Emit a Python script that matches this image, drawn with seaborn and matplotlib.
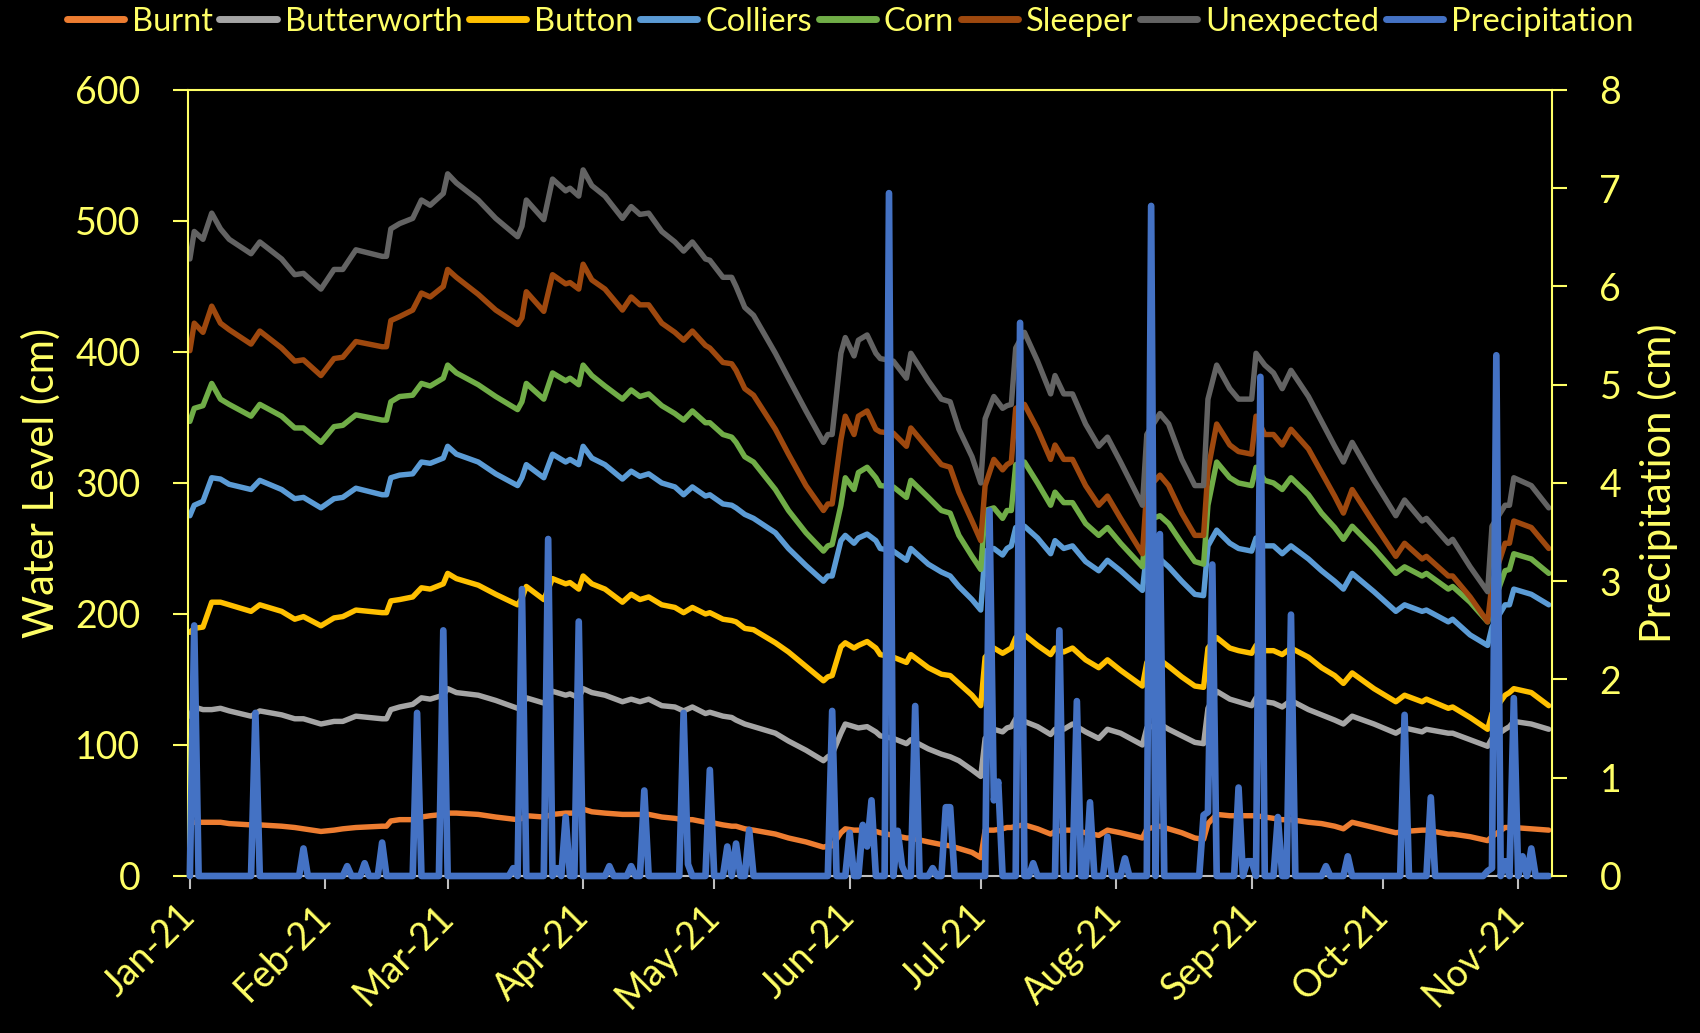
import pandas as pd
import matplotlib
matplotlib.use("Agg")
import matplotlib.pyplot as plt
from matplotlib.lines import Line2D
import seaborn as sns

### Water level at seven wells + daily precipitation, 2021
start = pd.Timestamp("2021-01-01")

# days since Jan 1 where the water level lines change direction
level_days = [0, 1, 3, 5, 7, 9, 14, 16, 21, 24, 26, 30, 33, 35, 38, 44, 45, 46, 48,
              51, 53, 55, 58, 59, 61, 66, 70, 75, 76, 77, 81, 83, 86, 87, 89, 90, 92, 95, 99, 101, 103,
              105, 108, 111, 113, 115, 118, 119, 122, 124, 125, 127, 129, 134, 137, 141, 145, 146, 147, 149, 150, 152, 153, 155, 157,
              158, 161, 164, 165, 169, 172, 174, 176, 179, 181, 182, 184, 186, 187, 188, 189, 191, 194, 197, 198, 200, 202, 205, 208,
              210, 213, 218, 219, 222, 224, 227, 230, 232, 233, 235, 238, 240, 243, 244, 246, 248, 250, 252, 256, 259, 262,
              264, 266, 271, 276, 278, 282, 283, 288, 289, 293, 297, 298, 301, 302, 303, 307, 311]

burnt = [41, 41, 41, 41, 41, 40, 39, 39, 38, 37, 36, 34, 35, 36, 37, 38, 38, 42, 43,
         43, 45, 46, 47, 48, 48, 47, 45, 43, 44, 46, 45, 47, 48, 48, 48, 51, 49, 48, 47, 47, 47,
         47, 45, 44, 43, 43, 41, 41, 39, 38, 38, 36, 35, 32, 29, 26, 22, 23, 23, 33, 36, 35, 35, 35, 34,
         33, 31, 29, 29, 26, 24, 23, 21, 18, 14, 35, 35, 36, 37, 37, 38, 39, 36, 32, 34, 35, 35, 33, 31,
         35, 33, 29, 36, 38, 36, 33, 29, 28, 40, 47, 46, 46, 46, 46, 45, 44, 43, 43, 41, 40, 38,
         36, 41, 37, 33, 34, 35, 35, 32, 32, 30, 27, 30, 37, 37, 37, 36, 35]

butterworth = [122, 129, 127, 127, 128, 126, 122, 126, 123, 120, 120, 116, 118, 118, 122, 120, 120, 127, 129,
               131, 136, 135, 138, 143, 140, 138, 134, 128, 130, 136, 132, 141, 138, 139, 136, 143, 140, 138, 133, 135, 133,
               135, 130, 129, 126, 129, 124, 125, 122, 121, 119, 116, 114, 109, 103, 96, 88, 91, 93, 109, 116, 114, 113, 114, 110,
               107, 105, 101, 104, 97, 93, 91, 88, 81, 76, 105, 112, 110, 113, 114, 120, 118, 114, 108, 112, 112, 116, 110, 105,
               112, 109, 100, 113, 116, 112, 107, 102, 101, 128, 141, 135, 133, 130, 136, 133, 132, 129, 134, 127, 123, 119,
               116, 122, 116, 109, 113, 110, 112, 109, 109, 104, 99, 105, 112, 114, 118, 116, 112]

button = [186, 189, 190, 209, 209, 207, 202, 207, 202, 196, 198, 191, 197, 198, 203, 201, 201, 210, 211,
          213, 220, 219, 223, 231, 227, 222, 215, 207, 212, 221, 211, 227, 223, 224, 219, 229, 223, 219, 209, 215, 211,
          213, 207, 205, 201, 205, 200, 201, 196, 195, 194, 189, 188, 178, 171, 160, 149, 152, 153, 175, 178, 174, 176, 179, 174,
          169, 167, 163, 169, 159, 154, 153, 147, 138, 130, 167, 174, 170, 172, 174, 182, 184, 176, 169, 174, 171, 174, 165, 159,
          165, 157, 145, 163, 165, 160, 152, 145, 144, 174, 182, 174, 172, 170, 176, 172, 172, 169, 174, 167, 159, 153,
          147, 155, 143, 133, 138, 133, 135, 128, 129, 121, 112, 124, 138, 140, 143, 140, 130]

colliers = [275, 283, 286, 304, 303, 299, 295, 302, 295, 288, 289, 281, 288, 289, 296, 291, 291, 304, 306,
            307, 316, 315, 319, 328, 322, 316, 307, 298, 304, 314, 304, 322, 316, 318, 314, 328, 319, 314, 303, 309, 305,
            307, 300, 297, 291, 297, 290, 291, 284, 283, 281, 276, 273, 262, 250, 237, 225, 229, 229, 256, 260, 254, 258, 261, 256,
            250, 248, 241, 250, 238, 232, 229, 221, 211, 203, 248, 250, 245, 250, 252, 266, 267, 258, 246, 256, 250, 252, 240, 233,
            241, 233, 218, 248, 242, 236, 225, 215, 214, 252, 264, 254, 250, 248, 258, 252, 252, 246, 252, 242, 233, 225,
            219, 231, 217, 202, 207, 202, 203, 194, 196, 184, 176, 190, 207, 207, 219, 215, 207]

corn = [347, 357, 359, 376, 364, 360, 351, 360, 351, 342, 342, 331, 343, 344, 352, 348, 348, 362, 366,
        367, 376, 374, 380, 390, 384, 375, 366, 356, 362, 376, 364, 384, 378, 380, 375, 390, 382, 374, 364, 371, 366,
        368, 359, 353, 348, 355, 346, 346, 337, 335, 331, 320, 316, 295, 279, 262, 248, 252, 253, 283, 304, 295, 308, 312, 304,
        298, 297, 289, 302, 289, 279, 277, 260, 244, 234, 279, 281, 273, 279, 279, 314, 316, 300, 283, 293, 285, 285, 269, 260,
        266, 254, 236, 271, 275, 269, 254, 240, 238, 283, 316, 304, 300, 298, 312, 302, 300, 295, 304, 291, 277, 266,
        257, 267, 250, 231, 236, 229, 231, 219, 221, 209, 194, 205, 233, 234, 246, 242, 231]

sleeper = [401, 422, 415, 435, 422, 417, 406, 416, 403, 393, 394, 382, 395, 396, 408, 404, 404, 424, 427,
           432, 445, 442, 450, 463, 457, 444, 432, 421, 426, 446, 431, 459, 452, 453, 448, 467, 455, 448, 432, 442, 436,
           436, 422, 415, 409, 416, 405, 403, 392, 391, 386, 372, 367, 341, 322, 298, 279, 284, 284, 333, 351, 337, 351, 355, 341,
           339, 338, 328, 342, 326, 314, 312, 293, 271, 256, 298, 318, 310, 314, 316, 357, 360, 341, 318, 329, 318, 318, 298, 283,
           290, 273, 246, 295, 306, 298, 277, 260, 260, 310, 345, 329, 324, 322, 351, 337, 337, 329, 341, 326, 308, 290,
           277, 295, 269, 244, 254, 242, 244, 229, 229, 213, 194, 223, 254, 254, 271, 266, 250]

unexpected = [471, 492, 486, 506, 494, 486, 475, 484, 471, 459, 460, 448, 463, 463, 478, 473, 473, 494, 498,
              502, 516, 512, 521, 536, 529, 516, 502, 488, 496, 516, 501, 532, 523, 525, 519, 539, 527, 519, 502, 511, 505,
              506, 492, 484, 477, 484, 471, 470, 457, 457, 450, 434, 428, 399, 380, 355, 331, 337, 337, 399, 411, 397, 409, 413, 399,
              395, 393, 380, 399, 378, 364, 362, 341, 320, 300, 349, 366, 357, 359, 360, 403, 415, 393, 368, 382, 368, 368, 345, 328,
              335, 316, 283, 337, 353, 345, 318, 298, 298, 364, 390, 372, 364, 364, 399, 390, 384, 372, 386, 366, 347, 328,
              316, 331, 302, 275, 287, 271, 273, 254, 257, 236, 217, 267, 283, 283, 304, 298, 281]

# daily precipitation (cm), dry days around each event given as 0
precip_days = [0, 1, 2, 14, 15, 16, 25, 26, 27, 35, 36, 37, 39, 40, 41, 43, 44, 45, 51, 52, 53, 57, 58, 59,
               73, 74, 75, 76, 77, 81, 82, 83, 84, 85, 86, 87, 88, 89, 90, 95, 96, 97, 100, 101, 102, 103, 104, 105,
               112, 113, 114, 115, 118, 119, 120, 122, 123, 124, 125, 126, 127, 128, 129,
               146, 147, 148, 150, 151, 152, 153, 154, 155, 156, 157, 159, 160, 161, 162, 163, 164, 165, 166, 167,
               169, 170, 171, 172, 173, 174, 175, 182, 183, 184, 185, 186, 189, 190, 191, 192, 193, 194,
               198, 199, 200, 202, 203, 204, 205, 206, 207, 209, 210, 211, 213, 214, 215,
               219, 220, 221, 222, 223, 231, 232, 233, 234, 235, 239, 240, 241, 242, 243, 244, 245, 246,
               248, 249, 250, 251, 252, 253, 259, 260, 261, 264, 265, 266, 277, 278, 279, 283, 284, 285,
               296, 297, 298, 299, 300, 301, 302, 303, 304, 305, 306, 307, 308, 311]
precip_cm = [0, 2.55, 0, 0, 1.66, 0, 0, 0.28, 0, 0, 0.10, 0, 0, 0.13, 0, 0, 0.34, 0, 0, 1.66, 0, 0, 2.50, 0,
             0, 0.08, 0, 2.92, 0, 0, 3.43, 0, 0.08, 0, 0.60, 0, 0, 2.59, 0, 0, 0.10, 0, 0, 0.10, 0, 0, 0.87, 0,
             0, 1.66, 0.12, 0, 0, 1.08, 0, 0, 0.30, 0, 0.33, 0, 0, 0.47, 0,
             0, 1.68, 0, 0, 0.44, 0, 0, 0.52, 0.30, 0.77, 0, 0, 6.95, 0, 0.46, 0.10, 0, 0, 1.73, 0,
             0, 0.08, 0, 0, 0.70, 0.70, 0, 0, 3.72, 0.77, 0.96, 0, 0, 5.63, 0, 0, 0.13, 0,
             0, 2.50, 0, 0, 1.78, 0, 0, 0.75, 0, 0, 0.40, 0, 0, 0.18, 0,
             0, 6.82, 0, 3.48, 0, 0, 0.62, 0.65, 3.17, 0, 0, 0.90, 0, 0.15, 0.15, 0, 5.08, 0,
             0, 0.60, 0, 0, 2.66, 0, 0, 0.10, 0, 0, 0.20, 0, 0, 1.64, 0, 0, 0.80, 0,
             0, 0.05, 0.08, 5.30, 0, 0.15, 0, 1.81, 0, 0.20, 0, 0.28, 0, 0]

sites = ["Burnt", "Butterworth", "Button", "Colliers", "Corn", "Sleeper", "Unexpected"]
site_colours = {
    "Burnt": "#ED7D31",
    "Butterworth": "#A5A5A5",
    "Button": "#FFC000",
    "Colliers": "#5B9BD5",
    "Corn": "#70AD47",
    "Sleeper": "#9E480E",
    "Unexpected": "#636363",
}
rain_colour = "#4472C4"
yellow = "#FFFF66"

# Build long table for seaborn
levels = pd.DataFrame({"day": level_days, "Burnt": burnt, "Butterworth": butterworth,
                       "Button": button, "Colliers": colliers, "Corn": corn,
                       "Sleeper": sleeper, "Unexpected": unexpected})
levels["date"] = start + pd.to_timedelta(levels["day"], unit="D")
long = levels.melt(id_vars=["date"], value_vars=sites, var_name="site", value_name="level")

rain = pd.DataFrame({"date": start + pd.to_timedelta(precip_days, unit="D"), "precip": precip_cm})

sns.set_theme(style="dark")
plt.rcParams["font.family"] = ["Lato", "DejaVu Sans"]

fig, ax = plt.subplots(figsize=(17, 10.33), dpi=100)
fig.patch.set_facecolor("black")
fig.subplots_adjust(left=0.1104, right=0.9131, bottom=0.152, top=0.9129)
ax.set_facecolor("black")

sns.lineplot(data=long, x="date", y="level", hue="site", hue_order=sites,
             palette=site_colours, linewidth=3.9, estimator=None, legend=False, ax=ax)

ax2 = ax.twinx()
sns.lineplot(data=rain, x="date", y="precip", color=rain_colour, linewidth=4.8,
             estimator=None, ax=ax2)
for ln in ax2.get_lines():
    ln.set_clip_on(False)

# Axis ranges
ax.set_xlim(start - pd.Timedelta(hours=12), start + pd.Timedelta(days=311.8))
ax.set_ylim(0, 600)
ax2.set_ylim(0, 8)

months = pd.date_range("2021-01-01", "2021-11-01", freq="MS")
ax.set_xticks(months)
ax.set_xticklabels([m.strftime("%b-%y") for m in months], rotation=45,
                   ha="right", va="center", rotation_mode="anchor")
ax.set_yticks(range(0, 601, 100))
ax2.set_yticks(range(0, 9))

# Spines
for s in ["left", "top"]:
    ax.spines[s].set_color(yellow)
    ax.spines[s].set_linewidth(1.5)
ax.spines["bottom"].set_color("#BFBFBF")
ax.spines["bottom"].set_linewidth(1.5)
ax.spines["right"].set_visible(False)
for s in ["left", "top", "bottom"]:
    ax2.spines[s].set_visible(False)
ax2.spines["right"].set_color(yellow)
ax2.spines["right"].set_linewidth(1.5)

ax.tick_params(axis="y", colors=yellow, direction="out", length=11, width=1.5,
               labelsize=27, pad=23, left=True)
ax.tick_params(axis="x", colors="#BFBFBF", labelcolor=yellow, direction="out",
               length=9, width=1.5, labelsize=27, pad=16, bottom=True)
ax2.tick_params(axis="y", colors=yellow, direction="out", length=11, width=1.5,
                labelsize=27, pad=23, right=True)

ax.set_xlabel("")
ax.set_ylabel("Water Level (cm)", color=yellow, fontsize=30, labelpad=10)
ax2.set_ylabel("Precipitation (cm)", color=yellow, fontsize=30, labelpad=12)
ax.grid(False)
ax2.grid(False)

# Legend across the top
handles = [Line2D([0], [0], color=site_colours[s], lw=5, solid_capstyle="round") for s in sites]
handles.append(Line2D([0], [0], color=rain_colour, lw=5, solid_capstyle="round"))
labels = sites + ["Precipitation"]
fig.legend(handles, labels, loc="upper center", bbox_to_anchor=(0.5, 1.022), ncol=8,
           frameon=False, fontsize=23.5, labelcolor=yellow, handlelength=1.75,
           handletextpad=0.25, columnspacing=0.2)

plt.savefig("out.png", dpi=100, facecolor="black")
